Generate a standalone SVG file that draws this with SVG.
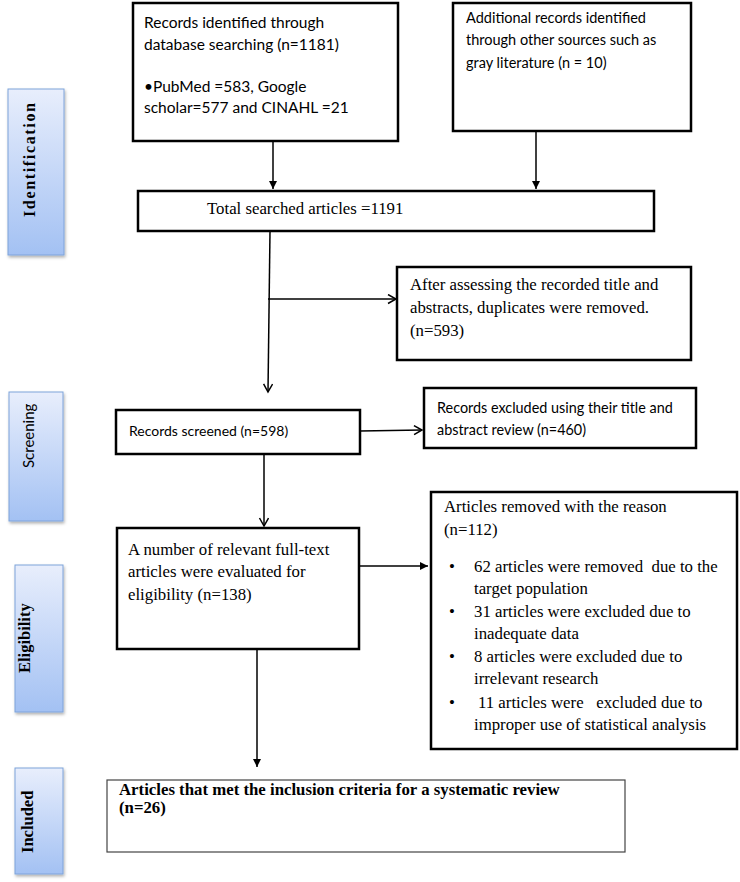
<svg xmlns="http://www.w3.org/2000/svg" width="740" height="882" viewBox="0 0 740 882">
<defs>
<linearGradient id="side" x1="0" y1="0" x2="0" y2="1">
<stop offset="0" stop-color="#e8eefc"/>
<stop offset="1" stop-color="#a3c1f3"/>
</linearGradient>
<filter id="sh" x="-20%" y="-10%" width="150%" height="130%">
<feDropShadow dx="1" dy="2" stdDeviation="1.5" flood-color="#000" flood-opacity="0.3"/>
</filter>
<marker id="fill" markerWidth="10" markerHeight="10" refX="8" refY="4" orient="auto" markerUnits="userSpaceOnUse">
<path d="M0,0 L8,4 L0,8 Z" fill="#000"/>
</marker>
<marker id="open" markerWidth="12" markerHeight="12" refX="9" refY="5" orient="auto" markerUnits="userSpaceOnUse">
<path d="M1,0.5 L9,5 L1,9.5" fill="none" stroke="#000" stroke-width="1.5"/>
</marker>
<style>
.box{fill:#fff;stroke:#000;stroke-width:2.5}
.thin{fill:#fff;stroke:#444;stroke-width:1.2}
.sb{fill:url(#side);stroke:#7ea3da;stroke-width:1;filter:url(#sh)}
.cal{font-family:Lato,"Open Sans","Liberation Sans",sans-serif;fill:#000}
.tim{font-family:"Liberation Serif","Times New Roman",serif;font-size:16.8px;fill:#000}
.bt{font-family:"Liberation Serif","Times New Roman",serif;font-weight:bold;fill:#000}
.ln{fill:none;stroke:#000;stroke-width:1.5}
</style>
</defs>

<g id="side-identification">
<rect class="sb" x="8" y="89" width="56" height="166"/>
<text class="bt" font-size="16" transform="translate(35,217) rotate(-90)" textLength="114" lengthAdjust="spacing">Identification</text>
</g>
<g id="side-screening">
<rect class="sb" x="9" y="392" width="54" height="129"/>
<text class="cal" font-size="15" transform="translate(34,468) rotate(-90)">Screening</text>
</g>
<g id="side-eligibility">
<rect class="sb" x="15" y="565" width="48" height="147"/>
<text class="bt" font-size="16.5" transform="translate(30,673) rotate(-90)">Eligibility</text>
</g>
<g id="side-included">
<rect class="sb" x="15" y="768" width="48" height="106"/>
<text class="bt" font-size="16.5" transform="translate(33,853) rotate(-90)">Included</text>
</g>

<g id="node-database">
<rect class="box" x="133" y="3" width="265" height="138"/>
<text class="cal" font-size="15.5" x="144" y="28">Records identified through</text>
<text class="cal" font-size="15.5" x="144" y="50">database searching (n=1181)</text>
<text class="cal" font-size="15.5" x="144" y="92">•PubMed =583, Google</text>
<text class="cal" font-size="15.5" x="144" y="113">scholar=577 and CINAHL =21</text>
</g>
<g id="node-other">
<rect class="box" x="453" y="3" width="238" height="128"/>
<text class="cal" font-size="14.5" x="466" y="23">Additional records identified</text>
<text class="cal" font-size="14.5" x="466" y="45">through other sources such as</text>
<text class="cal" font-size="14.5" x="466" y="68">gray literature (n = 10)</text>
</g>
<g id="node-total">
<rect class="box" x="138" y="191" width="516" height="40"/>
<text class="tim" x="207" y="214">Total searched articles =1191</text>
</g>
<g id="node-duplicates">
<rect class="box" x="397" y="267" width="294" height="93"/>
<text class="tim" x="410" y="290">After assessing the recorded title and</text>
<text class="tim" x="410" y="313">abstracts, duplicates were removed.</text>
<text class="tim" x="410" y="336">(n=593)</text>
</g>
<g id="node-screened">
<rect class="box" x="116" y="410" width="244" height="44"/>
<text class="cal" font-size="14" x="129" y="436">Records screened (n=598)</text>
</g>
<g id="node-excluded">
<rect class="box" x="424" y="388" width="272" height="60"/>
<text class="cal" font-size="14.4" x="437" y="413">Records excluded using their title and</text>
<text class="cal" font-size="14.4" x="437" y="435">abstract review (n=460)</text>
</g>
<g id="node-fulltext">
<rect class="box" x="117" y="528" width="242" height="121"/>
<text class="tim" x="128" y="555">A number of relevant full-text</text>
<text class="tim" x="128" y="577">articles were evaluated for</text>
<text class="tim" x="128" y="600">eligibility (n=138)</text>
</g>
<g id="node-removed">
<rect class="box" x="431" y="492" width="306" height="257"/>
<text class="tim" x="444" y="512">Articles removed with the reason</text>
<text class="tim" x="444" y="535">(n=112)</text>
<text class="tim" x="449" y="572">•</text>
<text class="tim" x="474" y="572" xml:space="preserve">62 articles were removed  due to the</text>
<text class="tim" x="474" y="594">target population</text>
<text class="tim" x="449" y="617">•</text>
<text class="tim" x="474" y="617">31 articles were excluded due to</text>
<text class="tim" x="474" y="639">inadequate data</text>
<text class="tim" x="449" y="662">•</text>
<text class="tim" x="474" y="662">8 articles were excluded due to</text>
<text class="tim" x="474" y="684">irrelevant research</text>
<text class="tim" x="449" y="708">•</text>
<text class="tim" x="478" y="708" xml:space="preserve">11 articles were   excluded due to</text>
<text class="tim" x="474" y="730">improper use of statistical analysis</text>
</g>
<g id="node-included">
<rect class="thin" x="107" y="780" width="518" height="72"/>
<text class="bt" font-size="16.8" x="119" y="795">Articles that met the inclusion criteria for a systematic review</text>
<text class="bt" font-size="16.8" x="119" y="813">(n=26)</text>
</g>

<g id="connectors">
<line class="ln" x1="273" y1="141" x2="273" y2="189" marker-end="url(#fill)"/>
<line class="ln" x1="536" y1="131" x2="536" y2="189" marker-end="url(#fill)"/>
<line class="ln" x1="270" y1="231" x2="268" y2="392" marker-end="url(#open)"/>
<line class="ln" x1="268" y1="299" x2="396" y2="299" marker-end="url(#open)"/>
<line class="ln" x1="360" y1="431" x2="422" y2="430" marker-end="url(#open)"/>
<line class="ln" x1="264" y1="454" x2="264" y2="526" marker-end="url(#open)"/>
<line class="ln" x1="360" y1="566" x2="428" y2="566" marker-end="url(#fill)"/>
<line class="ln" x1="257" y1="649" x2="257" y2="767" marker-end="url(#fill)"/>
</g>
</svg>
